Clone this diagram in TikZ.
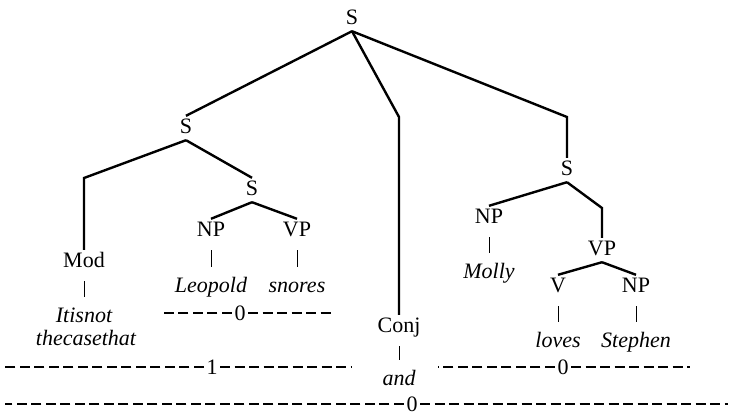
\documentclass[tikz,border=0pt]{standalone}
\usepackage{fontspec}
\setmainfont{Liberation Serif}
\newcommand{\treefont}{\fontsize{22}{26}\selectfont}

\begin{document}
\begin{tikzpicture}[x=1pt, y=-1pt, font=\treefont]
% Define styles
\tikzstyle{cat} = [inner sep=2pt, text height=15pt, text depth=5pt, anchor=base]
\tikzstyle{word} = [cat, font=\treefont\itshape]
\tikzstyle{branch} = [line width=2.4pt, line join=miter]
\tikzstyle{stem} = [line width=0.6pt, shorten <=7pt, shorten >=8pt]
\tikzstyle{rule} = [line width=1.3pt, dash pattern=on 10pt off 4.5pt]
\tikzstyle{num} = [inner sep=2.5pt]

\useasboundingbox (0,0) rectangle (730,416);

% Define nodes
\node (s0) [cat] at (352,24) {S};
\node (s1) [cat] at (186,133) {S};
\node (mod) [cat] at (84,267) {Mod};
\node (itisnot) [word] at (84,322) {Itisnot};
\node (thecase) [word] at (86,345) {thecasethat};
\node (s2) [cat] at (252,195) {S};
\node (np1) [cat] at (211,236) {NP};
\node (vp1) [cat] at (297,236) {VP};
\node (leopold) [word] at (211,292) {Leopold};
\node (snores) [word] at (297,292) {snores};
\node (conj) [cat] at (399,332) {Conj};
\node (and) [word] at (399,385) {and};
\node (s3) [cat] at (567,175) {S};
\node (np2) [cat] at (489,223) {NP};
\node (molly) [word] at (489,278) {Molly};
\node (vp2) [cat] at (602,255) {VP};
\node (v) [cat] at (558,292) {V};
\node (np3) [cat] at (636,292) {NP};
\node (loves) [word] at (558,347) {loves};
\node (stephen) [word] at (636,347) {Stephen};

% Bend points
\coordinate (kmod) at (84,178);
\coordinate (kconj) at (399,117);
\coordinate (ks3) at (567,117);
\coordinate (kvp2) at (602,208);

% Draw branches
\draw [branch] (s0.south) -- (s1.north);
\draw [branch] (s0.south) -- (kconj) -- (conj.north);
\draw [branch] (s0.south) -- (ks3) -- (s3.north);
\draw [branch] (s1.south) -- (kmod) -- (mod.north);
\draw [branch] (s1.south) -- (s2.north);
\draw [branch] (s2.south) -- (np1.north);
\draw [branch] (s2.south) -- (vp1.north);
\draw [branch] (s3.south) -- (np2.north);
\draw [branch] (s3.south) -- (kvp2) -- (vp2.north);
\draw [branch] (vp2.south) -- (v.north);
\draw [branch] (vp2.south) -- (np3.north);

% Lexical stems
\draw [stem] (mod) -- (itisnot);
\draw [stem] (np1) -- (leopold);
\draw [stem] (vp1) -- (snores);
\draw [stem] (conj) -- (and);
\draw [stem] (np2) -- (molly);
\draw [stem] (v) -- (loves);
\draw [stem] (np3) -- (stephen);

% Truth value rules
\node (zinner) [num] at (240,313) {0};
\coordinate (zinnerl) at (162,313);
\coordinate (zinnerr) at (334,313);
\draw [rule] (zinner) -- (zinnerl);
\draw [rule] (zinner) -- (zinnerr);

\node (one) [num] at (212,367) {1};
\coordinate (onel) at (5,367);
\coordinate (oner) at (352,367);
\draw [rule] (one) -- (onel);
\draw [rule] (one) -- (oner);

\node (zright) [num] at (563,367) {0};
\coordinate (zrightl) at (438,367);
\coordinate (zrightr) at (690,367);
\draw [rule] (zright) -- (zrightl);
\draw [rule] (zright) -- (zrightr);

\node (zall) [num] at (412,404) {0};
\coordinate (zalll) at (5,404);
\coordinate (zallr) at (728,404);
\draw [rule] (zall) -- (zalll);
\draw [rule] (zall) -- (zallr);
\end{tikzpicture}
\end{document}
